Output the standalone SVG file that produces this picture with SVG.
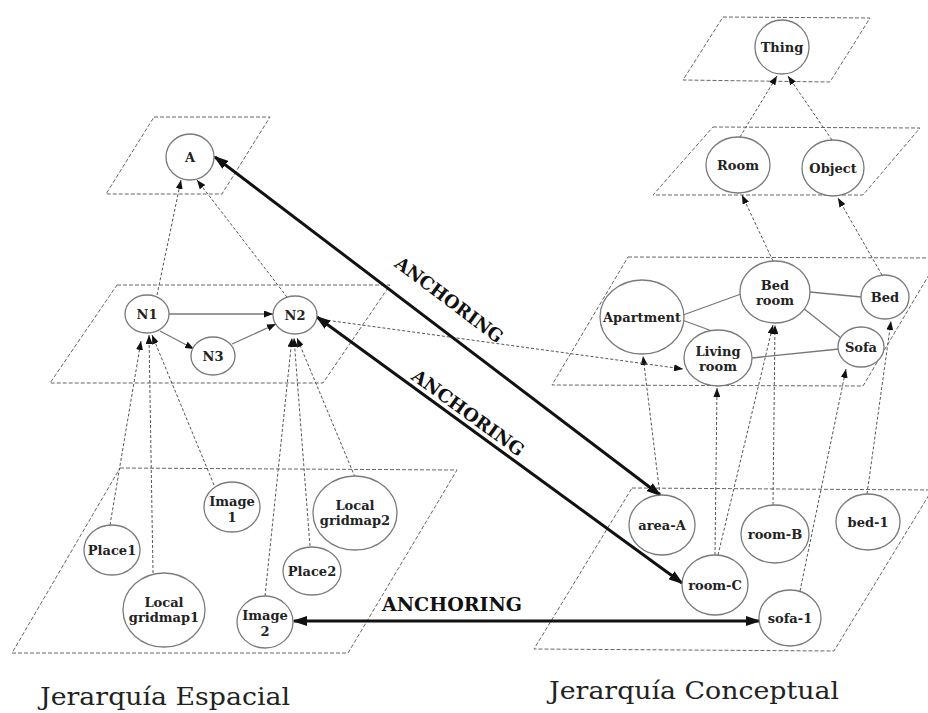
<svg xmlns="http://www.w3.org/2000/svg" width="928" height="713" viewBox="0 0 928 713">
  <style>
    .plane { fill: none; stroke: #666; stroke-width: 1; stroke-dasharray: 4 2; }
    .node ellipse { fill: #fff; stroke: #7a7a7a; stroke-width: 1.3; }
    .node text { font-family: "DejaVu Serif", "Liberation Serif", serif; font-weight: bold; font-size: 13px; fill: #222; text-anchor: middle; }
    .dot { fill: none; stroke: #555; stroke-width: 1; stroke-dasharray: 3 2; }
    .dotarrow { marker-end: url(#tip); }
    .edge { fill: none; stroke: #777; stroke-width: 1.3; }
    .edgearrow { marker-end: url(#tip); }
    .anchor { fill: none; stroke: #111; stroke-width: 3; marker-start: url(#big); marker-end: url(#big); }
    .anchor-label { font-family: "DejaVu Serif", "Liberation Serif", serif; font-weight: bold; font-size: 18px; fill: #111; text-anchor: middle; }
    .title { font-family: "DejaVu Serif", "Liberation Serif", serif; font-size: 24px; fill: #222; }
  </style>
  <defs>
    <marker id="tip" viewBox="0 0 9 7" refX="9" refY="3.5" markerWidth="9" markerHeight="7" markerUnits="userSpaceOnUse" orient="auto">
      <path d="M0,0 L9,3.5 L0,7 z" fill="#111"/>
    </marker>
    <marker id="big" viewBox="0 0 15 10" refX="13" refY="5" markerWidth="15" markerHeight="10" markerUnits="userSpaceOnUse" orient="auto-start-reverse">
      <path d="M0,0 L15,5 L0,10 z" fill="#111"/>
    </marker>
  </defs>

  <rect width="928" height="713" fill="#fff"/>

  <!-- hierarchy levels -->
  <g id="planes">
    <polygon class="plane" points="154,117 270,117 222,194 106,194"/>
    <polygon class="plane" points="117,285 390,285 323,383 50,383"/>
    <polygon class="plane" points="120,468 457,470 348,653 12,653"/>
    <polygon class="plane" points="723,17 870,18 830,82 683,80"/>
    <polygon class="plane" points="713,127 920,128 863,195 653,195"/>
    <polygon class="plane" points="628,257 939,258 863,386 552,385"/>
    <polygon class="plane" points="632,488 932,490 834,651 534,649"/>
  </g>

  <g id="connectors">
    <!-- spatial hierarchy -->
    <line class="dot dotarrow" x1="157" y1="295" x2="181" y2="180"/>
    <line class="dot dotarrow" x1="287" y1="297" x2="197" y2="180"/>
    <line class="edge edgearrow" x1="169" y1="314" x2="273" y2="314"/>
    <line class="edge edgearrow" x1="160" y1="331" x2="194" y2="349"/>
    <line class="edge edgearrow" x1="232" y1="344" x2="276" y2="324"/>
    <line class="dot dotarrow" x1="110" y1="525" x2="141" y2="341"/>
    <line class="dot dotarrow" x1="153" y1="573" x2="149" y2="335"/>
    <line class="dot dotarrow" x1="214" y1="485" x2="152" y2="335"/>
    <line class="dot dotarrow" x1="265" y1="596" x2="292" y2="338"/>
    <line class="dot dotarrow" x1="310" y1="546" x2="294" y2="338"/>
    <line class="dot dotarrow" x1="355" y1="477" x2="297" y2="338"/>

    <!-- conceptual hierarchy -->
    <line class="dot dotarrow" x1="740" y1="137" x2="777" y2="76"/>
    <line class="dot dotarrow" x1="832" y1="140" x2="788" y2="76"/>
    <line class="dot dotarrow" x1="773" y1="261" x2="742" y2="195"/>
    <line class="dot dotarrow" x1="882" y1="275" x2="838" y2="198"/>
    <line class="edge" x1="683" y1="315" x2="741" y2="294"/>
    <line class="edge" x1="682" y1="320" x2="712" y2="331"/>
    <line class="edge" x1="810" y1="292" x2="861" y2="297"/>
    <line class="edge" x1="803" y1="308" x2="841" y2="338"/>
    <line class="edge" x1="752" y1="358" x2="839" y2="349"/>
    <line class="dot dotarrow" x1="660" y1="495" x2="643" y2="356"/>
    <line class="dot dotarrow" x1="715" y1="555" x2="717" y2="388"/>
    <line class="dot dotarrow" x1="718" y1="555" x2="773" y2="325"/>
    <line class="dot dotarrow" x1="773" y1="505" x2="775" y2="325"/>
    <line class="dot dotarrow" x1="800" y1="591" x2="846" y2="369"/>
    <line class="dot dotarrow" x1="867" y1="494" x2="891" y2="321"/>

    <!-- cross link -->
    <line class="dot dotarrow" x1="318" y1="319" x2="683" y2="369"/>

    <!-- anchoring links -->
    <line class="anchor" x1="215" y1="157" x2="660" y2="495"/>
    <line class="anchor" x1="317" y1="317" x2="682" y2="583"/>
    <line class="anchor" x1="294" y1="621" x2="759" y2="621"/>
  </g>

  <g id="anchor-labels">
    <text class="anchor-label" transform="translate(449,300) rotate(37)" dy="6" textLength="130" lengthAdjust="spacingAndGlyphs">ANCHORING</text>
    <text class="anchor-label" transform="translate(468,413) rotate(36)" dy="6" textLength="134" lengthAdjust="spacingAndGlyphs">ANCHORING</text>
    <text class="anchor-label" x="452" y="611" textLength="140" lengthAdjust="spacingAndGlyphs">ANCHORING</text>
  </g>

  <!-- spatial nodes -->
  <g id="node-A" class="node"><ellipse cx="190" cy="157" rx="24" ry="23"/><text x="190" y="162">A</text></g>
  <g id="node-N1" class="node"><ellipse cx="147" cy="314" rx="22" ry="19"/><text x="147" y="319">N1</text></g>
  <g id="node-N2" class="node"><ellipse cx="295" cy="315" rx="22" ry="19"/><text x="295" y="320">N2</text></g>
  <g id="node-N3" class="node"><ellipse cx="213" cy="356" rx="22" ry="19"/><text x="213" y="361">N3</text></g>
  <g id="node-Place1" class="node"><ellipse cx="112" cy="550" rx="28" ry="25"/><text x="112" y="555">Place1</text></g>
  <g id="node-LocalGridmap1" class="node"><ellipse cx="164" cy="610" rx="41" ry="37"/><text x="164" y="607">Local<tspan x="164" dy="15">gridmap1</tspan></text></g>
  <g id="node-Image1" class="node"><ellipse cx="232" cy="507" rx="28" ry="25"/><text x="232" y="506">Image<tspan x="232" dy="16">1</tspan></text></g>
  <g id="node-LocalGridmap2" class="node"><ellipse cx="355" cy="513" rx="42" ry="37"/><text x="355" y="510">Local<tspan x="355" dy="15">gridmap2</tspan></text></g>
  <g id="node-Place2" class="node"><ellipse cx="312" cy="571" rx="29" ry="24"/><text x="312" y="576">Place2</text></g>
  <g id="node-Image2" class="node"><ellipse cx="265" cy="622" rx="28" ry="26"/><text x="265" y="620">Image<tspan x="265" dy="16">2</tspan></text></g>

  <!-- conceptual nodes -->
  <g id="node-Thing" class="node"><ellipse cx="782" cy="47" rx="27" ry="27"/><text x="782" y="52">Thing</text></g>
  <g id="node-Room" class="node"><ellipse cx="738" cy="165" rx="32" ry="28"/><text x="738" y="170">Room</text></g>
  <g id="node-Object" class="node"><ellipse cx="833" cy="168" rx="31" ry="28"/><text x="833" y="173">Object</text></g>
  <g id="node-Apartment" class="node"><ellipse cx="642" cy="317" rx="42" ry="37"/><text x="642" y="322">Apartment</text></g>
  <g id="node-BedRoom" class="node"><ellipse cx="775" cy="292" rx="35" ry="31"/><text x="775" y="290">Bed<tspan x="775" dy="15">room</tspan></text></g>
  <g id="node-Bed" class="node"><ellipse cx="885" cy="297" rx="24" ry="22"/><text x="885" y="302">Bed</text></g>
  <g id="node-LivingRoom" class="node"><ellipse cx="718" cy="358" rx="34" ry="28"/><text x="718" y="356">Living<tspan x="718" dy="15">room</tspan></text></g>
  <g id="node-Sofa" class="node"><ellipse cx="861" cy="347" rx="23" ry="20"/><text x="861" y="352">Sofa</text></g>
  <g id="node-areaA" class="node"><ellipse cx="662" cy="525" rx="33" ry="30"/><text x="662" y="530">area-A</text></g>
  <g id="node-roomB" class="node"><ellipse cx="775" cy="534" rx="34" ry="29"/><text x="775" y="539">room-B</text></g>
  <g id="node-bed1" class="node"><ellipse cx="868" cy="522" rx="32" ry="28"/><text x="868" y="527">bed-1</text></g>
  <g id="node-roomC" class="node"><ellipse cx="715" cy="585" rx="33" ry="30"/><text x="715" y="590">room-C</text></g>
  <g id="node-sofa1" class="node"><ellipse cx="790" cy="618" rx="31" ry="28"/><text x="790" y="623">sofa-1</text></g>

  <g id="titles">
    <text class="title" x="40" y="705" textLength="250" lengthAdjust="spacingAndGlyphs">Jerarquía Espacial</text>
    <text class="title" x="549" y="699" textLength="290" lengthAdjust="spacingAndGlyphs">Jerarquía Conceptual</text>
  </g>
</svg>
